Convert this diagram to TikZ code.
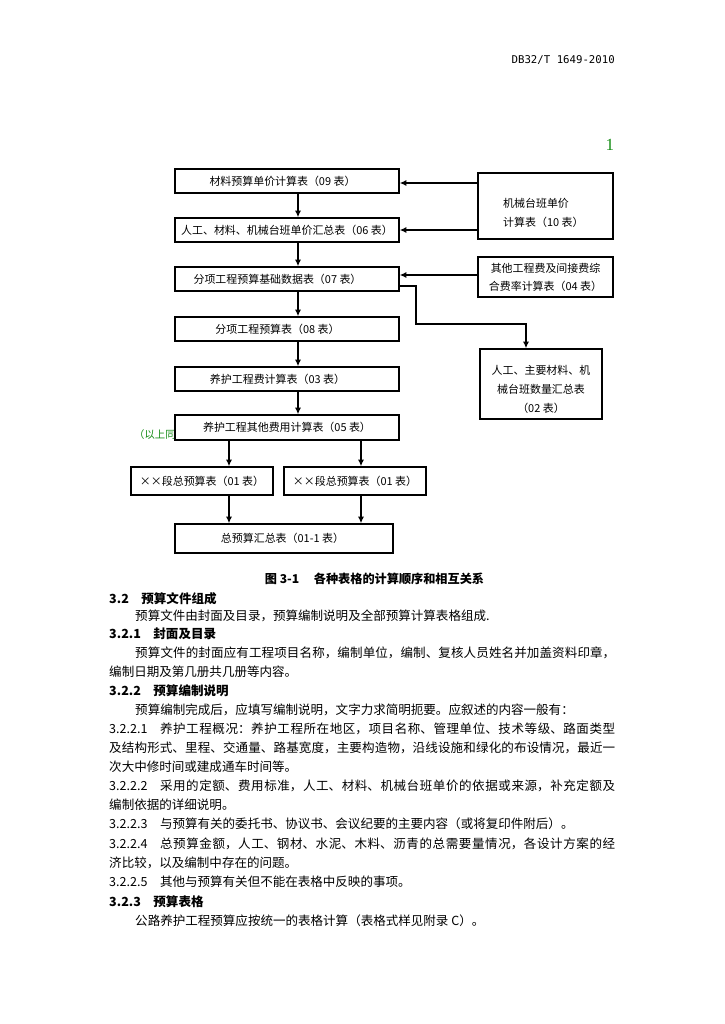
\documentclass[tikz,border=0pt]{standalone}
\usepackage{fontspec}
\setmainfont{Noto Sans CJK SC}
\newfontfamily\monofont{DejaVu Sans Mono}
\newfontfamily\seriffont{Liberation Serif}
\usetikzlibrary{arrows.meta}
\XeTeXlinebreaklocale "zh"
\XeTeXlinebreakskip=0pt plus 2pt
\definecolor{verde}{RGB}{20,140,20}
\newdimen\pxu \pxu=0.822pt
% riga giustificata su tutta la larghezza #1 (in px)
\def\giustifica#1#2{\parbox{#1\pxu}{\parfillskip=0pt #2}}
% spinge il testo del riquadro verso sinistra
\def\rientro#1{\kern#1\pxu}
\begin{document}
\begin{tikzpicture}[x=0.822pt,y=-0.822pt,>={Latex[length=5.5pt,width=5pt]},
	tabella/.style={draw, line width=1.1pt, fill=white, inner sep=0pt,
		font=\fontsize{9}{15}\selectfont},
	freccia/.style={->, line width=1.1pt},
	testo/.style={anchor=west, inner sep=0pt, font=\fontsize{10.3}{12}\selectfont},
	titolo/.style={anchor=west, inner sep=0pt, font=\fontsize{10.3}{12}\selectfont\bfseries},
	]
	\fill[white] (0,0) rectangle (724,1024);
	\useasboundingbox (0,0) rectangle (724,1024);
	
	% ── intestazione ──
	\node[anchor=east, inner sep=0pt, font=\monofont\fontsize{8.8}{10}\selectfont] (norma) at (615,60) {DB32/T 1649-2010};
	\node[inner sep=0pt, text=verde, font=\seriffont\fontsize{14}{14}\selectfont] (pag) at (610,145) {1};
	
	% ── nota verde, coperta in parte dal riquadro 05 ──
	\node[anchor=west, inner sep=0pt, text=verde, font=\fontsize{8.5}{10}\selectfont] (nota) at (134,435) {（以上同};
	
	% ===================== colonna principale =====================
	\node[tabella, minimum width=224\pxu, minimum height=24\pxu] (t09) at (287,181) {材料预算单价计算表（09 表）\rientro{9}};
	\node[tabella, minimum width=224\pxu, minimum height=24\pxu] (t06) at (287,230) {人工、材料、机械台班单价汇总表（06 表）};
	\node[tabella, minimum width=224\pxu, minimum height=24\pxu] (t07) at (287,279) {分项工程预算基础数据表（07 表）\rientro{19}};
	\node[tabella, minimum width=224\pxu, minimum height=24\pxu] (t08) at (287,329) {分项工程预算表（08 表）\rientro{19}};
	\node[tabella, minimum width=224\pxu, minimum height=24\pxu] (t03) at (287,379) {养护工程费计算表（03 表）\rientro{19}};
	\node[tabella, minimum width=224\pxu, minimum height=25\pxu] (t05) at (287,427.5) {养护工程其他费用计算表（05 表）};
	\node[tabella, minimum width=142\pxu, minimum height=28\pxu] (t01a) at (202,481) {××段总预算表（01 表）};
	\node[tabella, minimum width=142\pxu, minimum height=28\pxu] (t01b) at (355,481) {××段总预算表（01 表）};
	\node[tabella, minimum width=218\pxu, minimum height=29\pxu] (t011) at (284,538.5) {总预算汇总表（01-1 表）\rientro{3}};
	
	% ===================== colonna destra =====================
	\node[tabella, minimum width=135\pxu, minimum height=66\pxu] (t10) at (545.5,206) {};
	\node[anchor=west, inner sep=0pt, align=left, font=\fontsize{9}{15.6}\selectfont] (l10) at (503,212.5) {机械台班单价\\计算表（10 表）};
	\node[tabella, minimum width=135\pxu, minimum height=40\pxu, align=center, font=\fontsize{9}{14.8}\selectfont] (t04) at (545.5,277) {其他工程费及间接费综\\合费率计算表（04 表）};
	\node[tabella, minimum width=122\pxu, minimum height=70\pxu] (t02) at (541,384) {};
	\node[inner sep=0pt, align=center, font=\fontsize{9}{15.6}\selectfont] (l02) at (541,389) {人工、主要材料、机\\械台班数量汇总表\\（02 表）};
	
	% ── frecce ──
	\coordinate (ax) at (298,0);
	\coordinate (bx) at (229,0);
	\coordinate (cx) at (361,0);
	\draw[freccia] (t09.south -| ax) -- (t06.north -| ax);
	\draw[freccia] (t06.south -| ax) -- (t07.north -| ax);
	\draw[freccia] (t07.south -| ax) -- (t08.north -| ax);
	\draw[freccia] (t08.south -| ax) -- (t03.north -| ax);
	\draw[freccia] (t03.south -| ax) -- (t05.north -| ax);
	\draw[freccia] (t05.south -| bx) -- (t01a.north -| bx);
	\draw[freccia] (t05.south -| cx) -- (t01b.north -| cx);
	\draw[freccia] (t01a.south -| bx) -- (t011.north -| bx);
	\draw[freccia] (t01b.south -| cx) -- (t011.north -| cx);
	
	\coordinate (ya) at (0,183);
	\coordinate (yb) at (0,230);
	\coordinate (yc) at (0,275);
	\draw[freccia] (t10.west |- ya) -- (t09.east |- ya);
	\draw[freccia] (t10.west |- yb) -- (t06.east |- yb);
	\draw[freccia] (t04.west |- yc) -- (t07.east |- yc);
	\coordinate (gA) at (416,286);
	\coordinate (gB) at (526,324);
	\draw[freccia] (t07.east |- gA) -- (gA) |- (gB) -- (t02.north -| gB);
	
	\node[inner sep=0pt, font=\fontsize{10}{12}\selectfont\bfseries] (didascalia) at (374.5,579) {图 3-1\hspace{1.2em}各种表格的计算顺序和相互关系};
	
	% ===================== testo della pagina =====================
	\node[titolo] (s32) at (109,599) {3.2\hspace{1em}预算文件组成};
	\node[testo] (r1) at (135,616) {预算文件由封面及目录，预算编制说明及全部预算计算表格组成.};
	\node[titolo] (s321) at (109,634) {3.2.1\hspace{1em}封面及目录};
	\node[testo] (r2) at (135,653) {\giustifica{480}{预算文件的封面应有工程项目名称，编制单位，编制、复核人员姓名并加盖资料印章，}};
	\node[testo] (r3) at (109,672) {编制日期及第几册共几册等内容。};
	\node[titolo] (s322) at (109,691) {3.2.2\hspace{1em}预算编制说明};
	\node[testo] (r4) at (135,710) {预算编制完成后，应填写编制说明，文字力求简明扼要。应叙述的内容一般有：};
	\node[testo] (r5) at (109,729) {\giustifica{506}{3.2.2.1\hspace{1em}养护工程概况：养护工程所在地区，项目名称、管理单位、技术等级、路面类型}};
	\node[testo] (r6) at (109,748) {\giustifica{506}{及结构形式、里程、交通量、路基宽度，主要构造物，沿线设施和绿化的布设情况，最近一}};
	\node[testo] (r7) at (109,767) {次大中修时间或建成通车时间等。};
	\node[testo] (r8) at (109,786) {\giustifica{506}{3.2.2.2\hspace{1em}采用的定额、费用标准，人工、材料、机械台班单价的依据或来源，补充定额及}};
	\node[testo] (r9) at (109,805) {编制依据的详细说明。};
	\node[testo] (r10) at (109,824) {3.2.2.3\hspace{1em}与预算有关的委托书、协议书、会议纪要的主要内容（或将复印件附后）。};
	\node[testo] (r11) at (109,844) {\giustifica{506}{3.2.2.4\hspace{1em}总预算金额，人工、钢材、水泥、木料、沥青的总需要量情况，各设计方案的经}};
	\node[testo] (r12) at (109,863) {济比较，以及编制中存在的问题。};
	\node[testo] (r13) at (109,882) {3.2.2.5\hspace{1em}其他与预算有关但不能在表格中反映的事项。};
	\node[titolo] (s323) at (109,902) {3.2.3\hspace{1em}预算表格};
	\node[testo] (r14) at (135,921) {公路养护工程预算应按统一的表格计算（表格式样见附录 C）。};
\end{tikzpicture}
\end{document}
